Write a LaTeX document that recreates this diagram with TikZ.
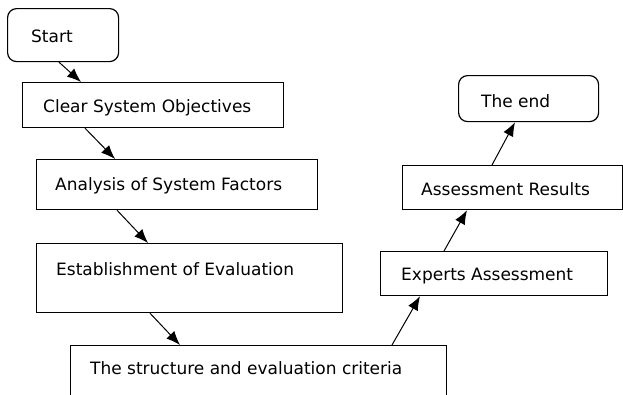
\documentclass[tikz,border=0pt]{standalone}
\usepackage{fontspec}
\setmainfont{DejaVu Sans}
\usetikzlibrary{arrows.meta,calc}
\begin{document}
\begin{tikzpicture}[x=1pt,y=-1pt,
  box/.style={draw=black,line width=1.2pt,inner sep=0pt,anchor=north west,minimum width=#1},
  rbox/.style={box=#1,rounded corners=9pt},
  lbl/.style={anchor=base west,inner sep=0pt,font=\fontsize{17}{20}\selectfont},
  arr/.style={line width=1pt,-{Latex[length=14pt,width=11pt]}}]
\useasboundingbox (0,0) rectangle (623,394);
% boxes
\node[rbox=111,minimum height=53pt] (start) at (7,8) {};
\node[box=261,minimum height=45pt] (clear) at (22,82) {};
\node[box=281,minimum height=50pt] (analysis) at (36,159) {};
\node[box=306,minimum height=69pt] (estab) at (36,243) {};
\node[box=376,minimum height=80pt] (struct) at (70,345) {};
\node[box=227,minimum height=44pt] (experts) at (380,251) {};
\node[box=220,minimum height=44pt] (results) at (402,165) {};
\node[rbox=140,minimum height=46pt] (theend) at (458,75) {};
% labels
\node[lbl] (tstart) at (31,42.5) {Start};
\node[lbl] (tclear) at (43,112.5) {Clear System Objectives};
\node[lbl] (tanalysis) at (55,190) {Analysis of System Factors};
\node[lbl] (testab) at (56,275) {Establishment of Evaluation};
\node[lbl] (tstruct) at (90,374) {The structure and evaluation criteria};
\node[lbl] (texperts) at (401,280) {Experts Assessment};
\node[lbl] (tresults) at (421,195) {Assessment Results};
\node[lbl] (tend) at (481,107) {The end};
% connectors
\draw[arr] ($(start.south west)+(52,0)$) -- ($(clear.north west)+(59,0)$);
\draw[arr] ($(clear.south west)+(63,0)$) -- ($(analysis.north west)+(79,0)$);
\draw[arr] ($(analysis.south west)+(81,0)$) -- ($(estab.north west)+(112,0)$);
\draw[arr] ($(estab.south west)+(114,0)$) -- ($(struct.north west)+(110,0)$);
\draw[arr] ($(struct.north west)+(322,0)$) -- ($(experts.south west)+(40,0)$);
\draw[arr] ($(experts.north west)+(64,0)$) -- ($(results.south west)+(65,0)$);
\draw[arr] ($(results.north west)+(90,0)$) -- ($(theend.south west)+(57,0)$);
\end{tikzpicture}
\end{document}
